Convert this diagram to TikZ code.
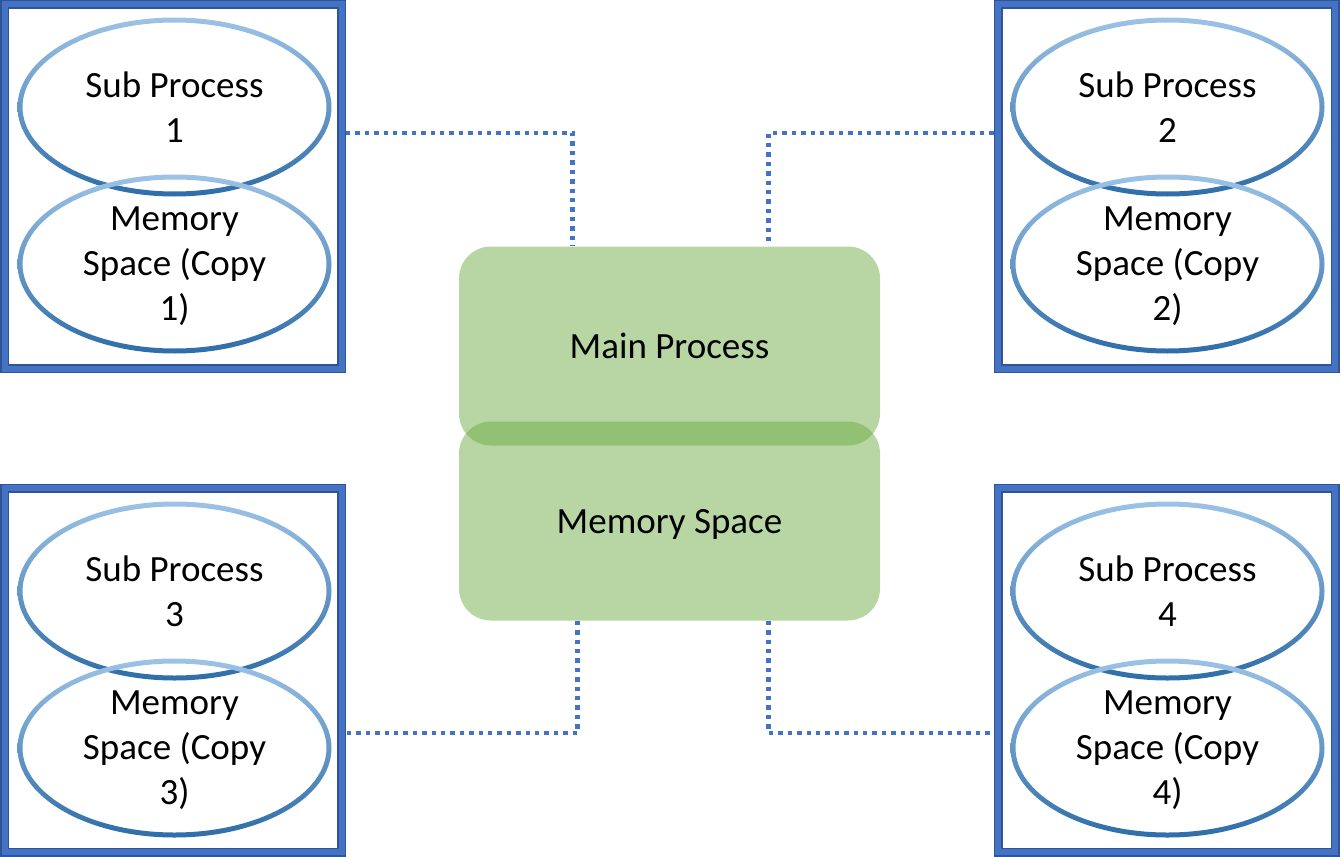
\documentclass[tikz,border=0pt]{standalone}
\usepackage{fontspec}
\setmainfont{Carlito}
\usetikzlibrary{shapes.geometric}

\definecolor{boxdark}{HTML}{2F5597}
\definecolor{boxblue}{HTML}{4472C4}
\definecolor{ringtop}{HTML}{9DC3E6}
\definecolor{ringmid}{HTML}{5B9BD5}
\definecolor{ringbot}{HTML}{2E6DA8}
\definecolor{procgreen}{HTML}{70AD47}

\tikzset{
  pbox/.style = {rectangle, draw = boxdark, line width = 9, minimum width = 337, minimum height = 364, postaction = {draw = boxblue, line width = 6}},
  pring/.style = {ellipse, inner sep = 0, minimum width = 308, minimum height = 174, align = center, text depth = 0},
  proc/.style = {rectangle, rounded corners = 32, fill = procgreen, fill opacity = 0.5, text opacity = 1, text depth = 0, minimum width = 421, minimum height = 199},
  link/.style = {draw = boxblue, line width = 4.2, dash pattern = on 4.4 off 5}
}

\begin{document}
\begin{tikzpicture}[x = 1pt, y = -1pt, every node/.style = {font = \fontsize{37}{45}\selectfont}]

  \useasboundingbox (0, 0) rectangle (1340, 856);

  % Boxes
  \node[pbox] (box1) at (173, 186.5) {};
  \node[pbox] (box2) at (1166.5, 186.5) {};
  \node[pbox] (box3) at (173, 670) {};
  \node[pbox] (box4) at (1166.5, 670) {};

  % Sub processes and their memory
  \node[pring] (sp1) at (174.5, 107) {Sub Process\\1};
  \node[pring] (ms1) at (174.5, 264) {Memory\\Space (Copy\\1)};
  \node[pring] (sp2) at (1167.5, 107) {Sub Process\\2};
  \node[pring] (ms2) at (1167.5, 264) {Memory\\Space (Copy\\2)};
  \node[pring] (sp3) at (174.5, 591) {Sub Process\\3};
  \node[pring] (ms3) at (174.5, 748) {Memory\\Space (Copy\\3)};
  \node[pring] (sp4) at (1167.5, 591) {Sub Process\\4};
  \node[pring] (ms4) at (1167.5, 748) {Memory\\Space (Copy\\4)};

  % Rings
  \foreach \r in {sp1, ms1, sp2, ms2, sp3, ms3, sp4, ms4}
    \shade[top color = ringtop, middle color = ringmid, bottom color = ringbot, even odd rule]
      (\r.center) ellipse [x radius = 157, y radius = 89.5] (\r.center) ellipse [x radius = 152, y radius = 84.5];

  % Main process
  \node[proc] (main) at (669.5, 346) {Main Process};
  \node[proc] (mem) at (669.5, 521) {Memory Space};

  % Links
  \draw[link] (box1.east |- 0, 133) -| ([xshift = -97]main.north);
  \draw[link] (box2.west |- 0, 133) -| ([xshift = 99]main.north);
  \draw[link] ([xshift = -92]mem.south) |- (box3.east |- 0, 733);
  \draw[link] ([xshift = 99]mem.south) |- (box4.west |- 0, 733);

\end{tikzpicture}
\end{document}
